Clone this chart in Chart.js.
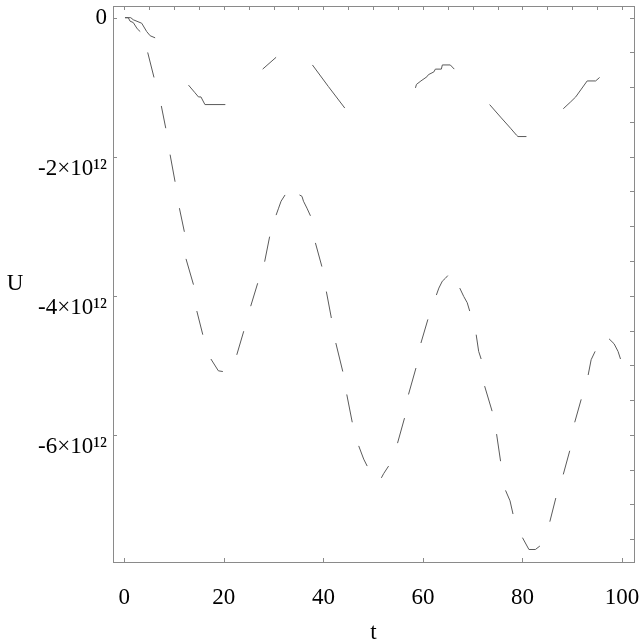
<!DOCTYPE html>
<html>
<head>
<meta charset="utf-8">
<script src="https://cdn.jsdelivr.net/npm/chart.js@4.4.1/dist/chart.umd.min.js"></script>
<style>
html,body{margin:0;padding:0;background:#fff;}
#wrap{width:640px;height:642px;position:relative;}
</style>
</head>
<body>
<div id="wrap"><canvas id="c" width="640" height="642"></canvas></div>
<script>
// U values are given in units of 10^12; null marks a gap between visible dashes
const U_UNIT = 1e12;

// Series 1 (large oscillation)
const s1T = [0.14,0.8,1.15,1.8,2.6,3.2,3.2,
  4.7,5.97,5.97, 7.44,8.33,8.33, 9.2,10.2,10.2, 11.07,12.07,12.07, 12.4,13.9,13.9,
  14.57,15.77,15.77, 17.4,18.9,19.8,19.8, 22.6,24.0,24.0, 25.4,26.8,26.8, 28.2,29.2,29.2,
  30.5,31.0,31.5,32.3,32.3, 35.2,35.7,36.0,36.7,37.4,37.4, 38.4,39.7,39.7, 40.6,41.6,41.6,
  42.5,43.9,43.9, 44.7,45.8,45.8, 47.1,48.1,48.8,48.8, 51.65,52.1,53.1,53.1, 54.9,56.3,56.3,
  57.1,58.6,58.6, 59.6,61.0,61.0, 62.7,63.2,63.9,64.5,65.0,65.0, 67.4,68.2,68.9,69.4,69.4,
  70.7,71.2,71.7,71.7, 72.4,73.9,73.9, 74.8,75.6,75.6, 76.6,77.5,78.1,78.1,
  80.0,81.3,82.6,83.5,83.5, 85.5,86.7,86.7, 88.2,89.5,89.5, 90.5,91.8,91.8,
  93.2,93.8,94.6,94.6, 97.4,98.4,99.2,99.7];
const s1U = [0,0,-0.05,-0.07,-0.16,-0.2,null,
  -0.5,-0.86,null, -1.27,-1.59,null, -1.97,-2.36,null, -2.74,-3.08,null, -3.47,-3.84,null,
  -4.22,-4.56,null, -4.91,-5.08,-5.09,null, -4.85,-4.51,null, -4.15,-3.82,null, -3.51,-3.15,null,
  -2.84,-2.74,-2.64,-2.55,null, -2.55,-2.57,-2.64,-2.74,-2.85,null, -3.24,-3.58,null, -3.94,-4.32,null,
  -4.68,-5.09,null, -5.42,-5.82,null, -6.16,-6.35,-6.45,null, -6.62,-6.56,-6.45,null, -6.12,-5.76,null,
  -5.42,-5.04,null, -4.68,-4.34,null, -3.99,-3.89,-3.79,-3.75,-3.71,null, -3.89,-4.01,-4.10,-4.22,null,
  -4.56,-4.80,-4.91,null, -5.30,-5.66,null, -5.99,-6.38,null, -6.80,-6.95,-7.14,null,
  -7.48,-7.65,-7.65,-7.60,null, -7.25,-6.91,null, -6.57,-6.23,null, -5.82,-5.49,null,
  -5.14,-4.92,-4.80,null, -4.62,-4.69,-4.80,-4.91];

// Series 2 (small oscillation)
const s2T = [0.14,1.3,1.8,3.5,4.5,5.2,6.2,6.2,
  12.9,14.2,14.9,15.4,16.2,20.3,20.3, 27.8,30.5,30.5, 37.8,41.0,44.3,44.3,
  58.5,58.7,59.6,60.8,61.1,62.2,62.5,63.7,63.9,65.5,66.3,66.3,
  73.4,75.6,77.6,78.8,79.1,80.8,80.8, 88.2,89.7,90.7,91.7,93.0,94.7,95.5];
const s2U = [0,0,-0.03,-0.08,-0.2,-0.26,-0.29,null,
  -0.97,-1.08,-1.14,-1.14,-1.25,-1.25,null, -0.74,-0.57,null, -0.68,-0.99,-1.30,null,
  -1.01,-0.96,-0.91,-0.85,-0.82,-0.78,-0.74,-0.74,-0.68,-0.68,-0.74,null,
  -1.25,-1.43,-1.59,-1.69,-1.71,-1.71,null, -1.31,-1.21,-1.14,-1.04,-0.91,-0.91,-0.86];

// Axis ticks and labels
const xTicks = [0,20,40,60,80,100];
const xMinorTicks = [0,5,10,15,20,25,30,35,40,45,50,55,60,65,70,75,80,85,90,95,100];
const yTicks = [-6,-4,-2,0];
const yTickLabels = ['-6×10¹²','-4×10¹²','-2×10¹²','0'];
const yMinorTicks = [0,-0.5,-1,-1.5,-2,-2.5,-3,-3.5,-4,-4.5,-5,-5.5,-6,-6.5,-7,-7.5];
const xTitle = 't';
const yTitle = 'U';

const FONT = "'Liberation Serif', 'Times New Roman', serif";

function toPoints(T, U) {
  return T.map((t, i) => ({x: t, y: U[i] === null ? null : U[i] * U_UNIT}));
}

const framePlugin = {
  id: 'frame',
  afterDatasetsDraw(chart) {
    const {ctx, chartArea: a, scales: {x, y}} = chart;
    ctx.save();
    ctx.strokeStyle = '#8a8a8a';
    ctx.lineWidth = 1;
    ctx.strokeRect(Math.round(a.left) + 0.5, Math.round(a.top) + 0.5,
                   Math.round(a.right - a.left), Math.round(a.bottom - a.top));
    const L = 4;
    ctx.beginPath();
    xTicks.forEach(v => { const p = Math.round(x.getPixelForValue(v)) + 0.5;
      ctx.moveTo(p, a.bottom); ctx.lineTo(p, a.bottom - L); });
    xMinorTicks.forEach(v => { const p = Math.round(x.getPixelForValue(v)) + 0.5;
      ctx.moveTo(p, a.top); ctx.lineTo(p, a.top + L); });
    yTicks.forEach(v => { const p = Math.round(y.getPixelForValue(v * U_UNIT)) + 0.5;
      ctx.moveTo(a.left, p); ctx.lineTo(a.left + L, p); });
    yMinorTicks.forEach(v => { const p = Math.round(y.getPixelForValue(v * U_UNIT)) + 0.5;
      ctx.moveTo(a.right, p); ctx.lineTo(a.right - L, p); });
    ctx.stroke();
    // horizontal y-axis title
    ctx.fillStyle = '#000';
    ctx.font = '23px ' + FONT;
    ctx.textAlign = 'center';
    ctx.textBaseline = 'middle';
    ctx.fillText(yTitle, 15, (a.top + a.bottom) / 2);
    ctx.restore();
  }
};

new Chart(document.getElementById('c'), {
  type: 'line',
  data: {
    datasets: [
      {data: toPoints(s1T, s1U), borderColor: '#5a5a5a', borderWidth: 1, pointRadius: 0, tension: 0, spanGaps: false, fill: false},
      {data: toPoints(s2T, s2U), borderColor: '#5a5a5a', borderWidth: 1, pointRadius: 0, tension: 0, spanGaps: false, fill: false}
    ]
  },
  options: {
    responsive: false,
    animation: false,
    devicePixelRatio: 1,
    layout: {padding: {top: 6, right: 6, left: 0, bottom: 0}},
    plugins: {legend: {display: false}, tooltip: {enabled: false}},
    scales: {
      x: {
        type: 'linear',
        min: -2.27, max: 102.41,
        grid: {display: false, drawTicks: false},
        border: {display: false},
        afterBuildTicks: s => { s.ticks = xTicks.map(v => ({value: v})); },
        afterFit: s => { s.height = 80; s.paddingLeft = 0; s.paddingRight = 0; },
        ticks: {color: '#000', font: {family: FONT, size: 23}, padding: 22, maxRotation: 0, autoSkip: false},
        title: {display: true, text: xTitle, color: '#000', font: {family: FONT, size: 23, lineHeight: 1}, padding: {top: 0, bottom: -2}}
      },
      y: {
        type: 'linear',
        min: -7.83 * U_UNIT, max: 0.168 * U_UNIT,
        grid: {display: false, drawTicks: false},
        border: {display: false},
        afterBuildTicks: s => { s.ticks = yTicks.map(v => ({value: v * U_UNIT})); },
        afterFit: s => { s.width = 113; s.paddingTop = 0; s.paddingBottom = 0; },
        ticks: {
          color: '#000', font: {family: FONT, size: 23, lineHeight: '24px'}, padding: 6, autoSkip: false,
          callback: (value) => {
            const i = yTicks.indexOf(Math.round(value / U_UNIT));
            const label = yTickLabels[i];
            return label === '0' ? label : ['', label];
          }
        }
      }
    }
  },
  plugins: [framePlugin]
});
</script>
</body>
</html>
